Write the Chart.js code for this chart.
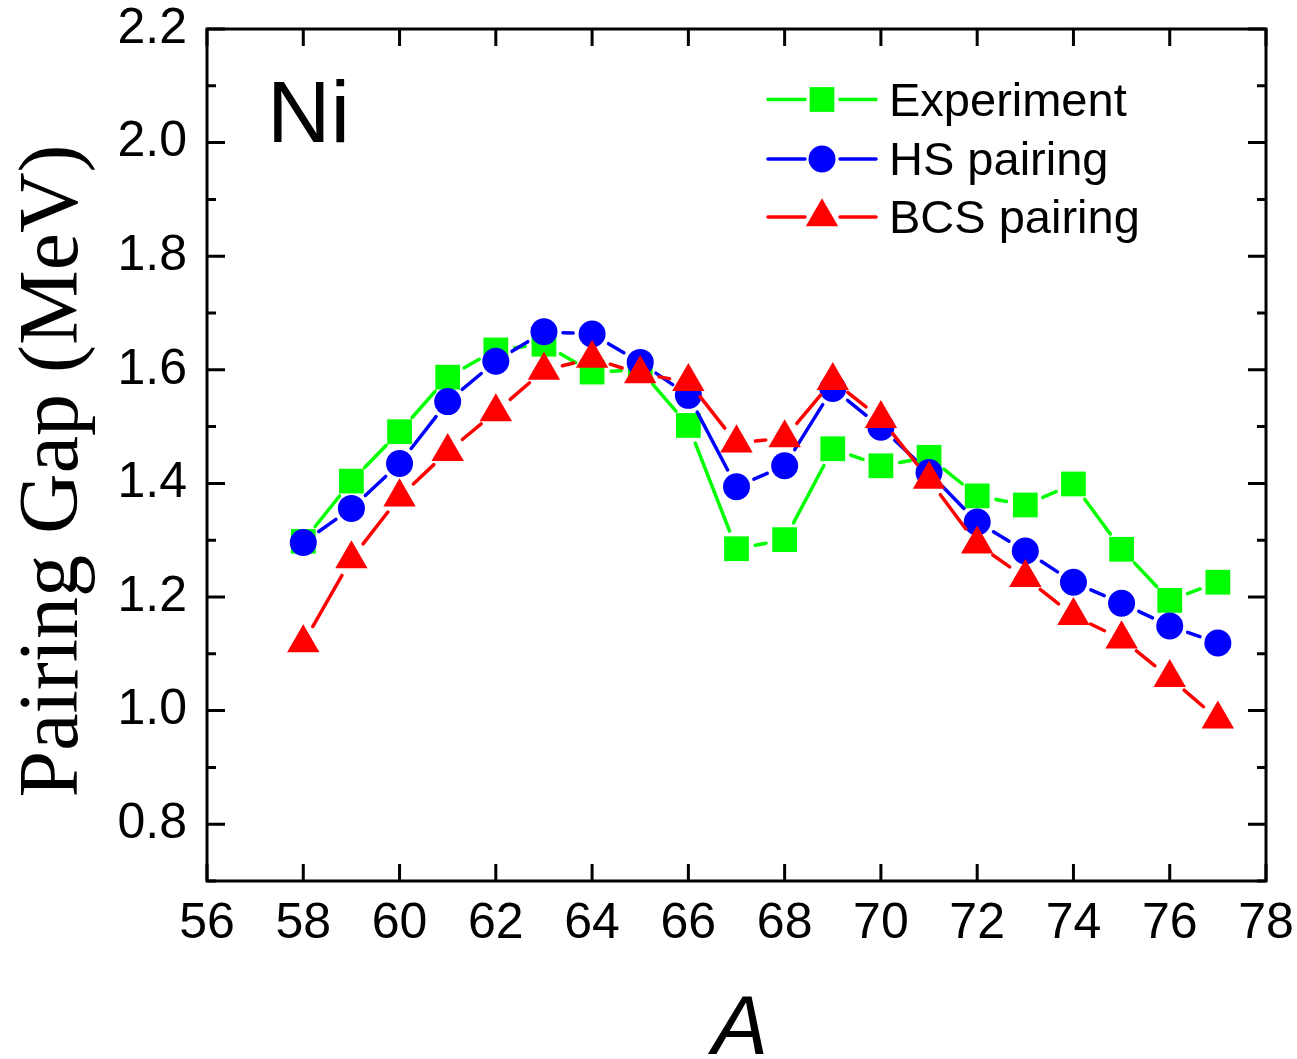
<!DOCTYPE html>
<html>
<head>
<meta charset="utf-8">
<script src="https://cdn.jsdelivr.net/npm/chart.js@4/dist/chart.umd.min.js"></script>
<style>
html, body { margin: 0; padding: 0; background: #ffffff; }
#wrap { width: 1297px; height: 1059px; position: relative; }
</style>
</head>
<body>
<div id="wrap"><canvas id="c" width="1297" height="1059"></canvas></div>
<script>
// ---- data ----
const massNumbers = [58, 59, 60, 61, 62, 63, 64, 65, 66, 67, 68, 69, 70, 71, 72, 73, 74, 75, 76, 77];
const experiment  = [1.298, 1.404, 1.491, 1.587, 1.635, 1.645, 1.596, 1.600, 1.502, 1.285, 1.301, 1.461, 1.431, 1.446, 1.378, 1.362, 1.399, 1.284, 1.194, 1.226];
const hsPairing   = [1.296, 1.356, 1.435, 1.544, 1.615, 1.667, 1.663, 1.613, 1.555, 1.394, 1.431, 1.567, 1.499, 1.419, 1.332, 1.281, 1.226, 1.189, 1.149, 1.119];
const bcsPairing  = [1.119, 1.267, 1.376, 1.456, 1.526, 1.599, 1.620, 1.593, 1.579, 1.471, 1.480, 1.581, 1.514, 1.407, 1.293, 1.234, 1.167, 1.126, 1.058, 0.985];
const xTickValues = [56, 58, 60, 62, 64, 66, 68, 70, 72, 74, 76, 78];
const yTickValues = [0.8, 1.0, 1.2, 1.4, 1.6, 1.8, 2.0, 2.2];
const yMinorTickValues = [0.7, 0.9, 1.1, 1.3, 1.5, 1.7, 1.9, 2.1];
const seriesNames = ['Experiment', 'HS pairing', 'BCS pairing'];
const panelLabel = 'Ni';
const xAxisTitle = 'A';
const yAxisTitle = 'Pairing Gap (MeV)';

// ---- styling ----
const SYMBOL_GAP = 19;
function gapDash(c) {
  const L = Math.hypot(c.p1.x - c.p0.x, c.p1.y - c.p0.y);
  return [Math.max(L - 2 * SYMBOL_GAP, 0.5), 5000];
}
function gapOffset(c) {
  return -SYMBOL_GAP + c.p0DataIndex * 1e-4;
}
function toPoints(ys) { return massNumbers.map((x, i) => ({ x: x, y: ys[i] })); }

function makeSet(label, ys, color, style, radius, order) {
  return {
    label: label,
    data: toPoints(ys),
    borderColor: color,
    backgroundColor: color,
    borderWidth: 3.5,
    borderCapStyle: 'round',
    pointStyle: style,
    pointRadius: radius,
    pointHoverRadius: radius,
    pointBackgroundColor: color,
    pointBorderWidth: 0,
    tension: 0,
    order: order,
    segment: { borderDash: gapDash, borderDashOffset: gapOffset }
  };
}

const frameAndText = {
  id: 'frameAndText',
  afterDraw(chart) {
    const ctx = chart.ctx;
    const a = chart.chartArea;
    const xs = chart.scales.x, ys = chart.scales.y;
    ctx.save();
    ctx.strokeStyle = '#000';
    ctx.lineWidth = 3;
    ctx.lineCap = 'butt';
    ctx.strokeRect(a.left, a.top, a.right - a.left, a.bottom - a.top);
    ctx.beginPath();
    xTickValues.forEach(v => {
      const px = xs.getPixelForValue(v);
      ctx.moveTo(px, a.bottom); ctx.lineTo(px, a.bottom - 17);
      ctx.moveTo(px, a.top); ctx.lineTo(px, a.top + 17);
    });
    yTickValues.forEach(v => {
      const py = ys.getPixelForValue(v);
      ctx.moveTo(a.left, py); ctx.lineTo(a.left + 18, py);
      ctx.moveTo(a.right, py); ctx.lineTo(a.right - 18, py);
    });
    yMinorTickValues.forEach(v => {
      const py = ys.getPixelForValue(v);
      ctx.moveTo(a.left, py); ctx.lineTo(a.left + 9, py);
      ctx.moveTo(a.right, py); ctx.lineTo(a.right - 9, py);
    });
    ctx.stroke();

    // texts
    ctx.fillStyle = '#000';
    ctx.textBaseline = 'alphabetic';
    ctx.font = '88px "Liberation Sans", Arial, sans-serif';
    ctx.textAlign = 'left';
    ctx.fillText(panelLabel, 267, 142);

    ctx.font = 'italic 84px "Liberation Sans", Arial, sans-serif';
    ctx.textAlign = 'center';
    ctx.fillText(xAxisTitle, 740, 1054);

    ctx.save();
    ctx.translate(77, 471);
    ctx.rotate(-Math.PI / 2);
    ctx.font = '84px "Liberation Serif", "Times New Roman", serif';
    ctx.textAlign = 'center';
    ctx.fillText(yAxisTitle, 0, 0);
    ctx.restore();

    // legend
    const rowY = [99.5, 159, 217];
    chart.data.datasets.forEach((ds, i) => {
      const y = rowY[i];
      ctx.strokeStyle = ds.borderColor;
      ctx.lineWidth = 3.5;
      ctx.lineCap = 'round';
      ctx.beginPath();
      ctx.moveTo(768, y); ctx.lineTo(805, y);
      ctx.moveTo(840, y); ctx.lineTo(876, y);
      ctx.stroke();
      ctx.fillStyle = ds.pointBackgroundColor;
      if (Chart.helpers && Chart.helpers.drawPoint) {
        Chart.helpers.drawPoint(ctx, { pointStyle: ds.pointStyle, radius: ds.pointRadius, rotation: 0, borderWidth: 0 }, 822, y);
      }
      ctx.fillStyle = '#000';
      ctx.font = '47px "Liberation Sans", Arial, sans-serif';
      ctx.textAlign = 'left';
      ctx.fillText(ds.label, 889, y + 16);
    });
    ctx.restore();
  }
};

new Chart(document.getElementById('c'), {
  type: 'line',
  data: {
    datasets: [
      makeSet(seriesNames[0], experiment, '#00ff00', 'rect', 17.5, 3),
      makeSet(seriesNames[1], hsPairing, '#0000ff', 'circle', 13.5, 2),
      makeSet(seriesNames[2], bcsPairing, '#ff0000', 'triangle', 18.7, 1)
    ]
  },
  options: {
    responsive: false,
    devicePixelRatio: 1,
    animation: false,
    events: [],
    layout: { padding: { top: 29, right: 31, left: 0, bottom: 0 } },
    plugins: { legend: { display: false }, tooltip: { enabled: false } },
    scales: {
      x: {
        type: 'linear',
        min: 56, max: 78,
        afterBuildTicks: s => { s.ticks = xTickValues.map(v => ({ value: v })); },
        afterFit: s => { s.height = 178; s.paddingLeft = 0; s.paddingRight = 0; s.paddingTop = 0; s.paddingBottom = 0; },
        grid: { display: false, drawTicks: false },
        border: { display: false },
        ticks: {
          color: '#000', padding: 13, maxRotation: 0, autoSkip: false,
          font: { family: '"Liberation Sans", Arial, sans-serif', size: 50, lineHeight: 1.2 },
          callback: v => String(v)
        }
      },
      y: {
        type: 'linear',
        min: 0.7, max: 2.2,
        afterBuildTicks: s => { s.ticks = yTickValues.map(v => ({ value: v })); },
        afterFit: s => { s.width = 207; s.paddingLeft = 0; s.paddingRight = 0; s.paddingTop = 0; s.paddingBottom = 0; },
        grid: { display: false, drawTicks: false },
        border: { display: false },
        ticks: {
          color: '#000', padding: 20,
          font: { family: '"Liberation Sans", Arial, sans-serif', size: 50, lineHeight: 1 },
          callback: v => Number(v).toFixed(1)
        }
      }
    }
  },
  plugins: [frameAndText]
});
</script>
</body>
</html>
